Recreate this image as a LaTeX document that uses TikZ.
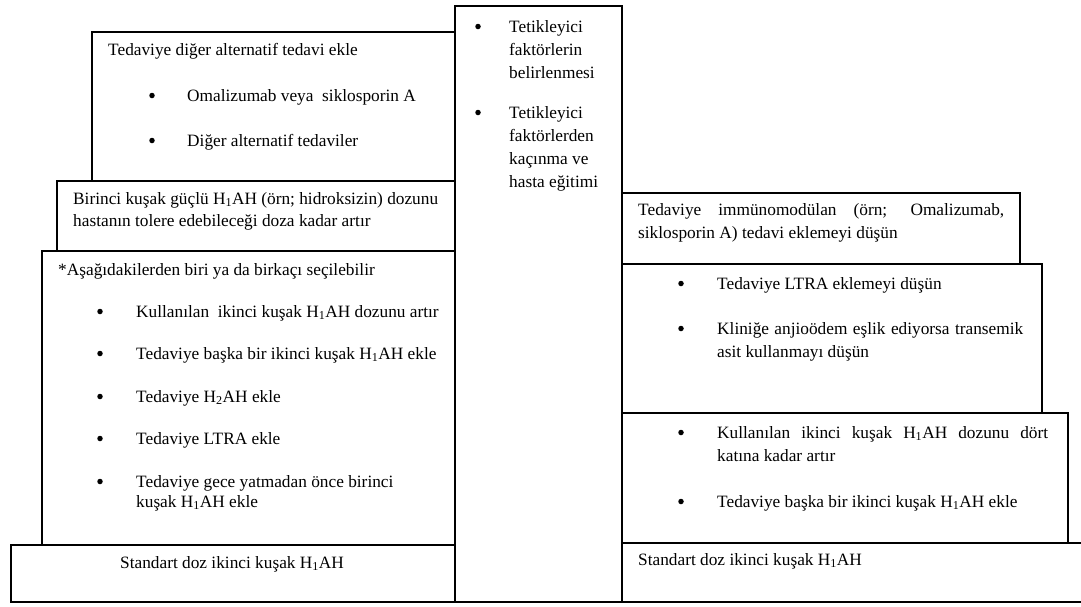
\documentclass[tikz,border=0pt]{standalone}
\usepackage{fontspec}
\setmainfont{Liberation Serif}
\newcommand{\HAH}[1]{H\textsubscript{#1}AH}
\tikzset{
  box/.style={draw=black, line width=1.6pt, anchor=north west, inner sep=0pt},
  txt/.style={anchor=base west, inner sep=0pt, font=\fontsize{17.3}{22}\selectfont},
  bul/.style={circle, fill=black, inner sep=0pt, minimum size=5.5pt, yshift=5.5pt},
}
\begin{document}
\begin{tikzpicture}[x=1pt, y=-1pt]
\useasboundingbox (0,0) rectangle (1081,606);
% left staircase
\node[box, minimum width=363pt, minimum height=149pt] (boxA) at (91,31) {};
\node[box, minimum width=398pt, minimum height=70pt] (boxB) at (56,180) {};
\node[box, minimum width=413pt, minimum height=294pt] (boxC) at (41,250) {};
\node[box, minimum width=444pt, minimum height=57pt] (boxD) at (10,544) {};
% centre column
\node[box, minimum width=167pt, minimum height=596pt] (boxM) at (454,5) {};
% right staircase
\node[box, minimum width=398pt, minimum height=71pt] (boxE) at (621,192) {};
\node[box, minimum width=420pt, minimum height=149pt] (boxF) at (621,263) {};
\node[box, minimum width=446pt, minimum height=130pt] (boxG) at (621,412) {};
\node[box, minimum width=480pt, minimum height=59pt] (boxH) at (621,542) {};

% box A
\node[txt] (a0) at (108,55) {Tedaviye diğer alternatif tedavi ekle};
\node[bul] (ab1) at (152,101) {};
\node[txt] (a1) at (187,101) {Omalizumab veya\ \ siklosporin A};
\node[bul] (ab2) at (152,146) {};
\node[txt] (a2) at (187,146) {Diğer alternatif tedaviler};
% box B
\node[txt] (b1) at (73,204) {Birinci kuşak güçlü \HAH{1} (örn; hidroksizin) dozunu};
\node[txt] (b2) at (73,226) {hastanın tolere edebileceği\ doza kadar artır};
% box C
\node[txt] (c0) at (58,275) {*Aşağıdakilerden biri ya da birkaçı seçilebilir};
\node[bul] (cb1) at (100,317) {};
\node[txt] (c1) at (136,317) {Kullanılan\ \ ikinci kuşak \HAH{1} dozunu artır};
\node[bul] (cb2) at (100,359) {};
\node[txt] (c2) at (136,359) {Tedaviye başka bir ikinci kuşak \HAH{1} ekle};
\node[bul] (cb3) at (100,402) {};
\node[txt] (c3) at (136,402) {Tedaviye \HAH{2} ekle};
\node[bul] (cb4) at (100,444) {};
\node[txt] (c4) at (136,444) {Tedaviye LTRA ekle};
\node[bul] (cb5) at (100,487) {};
\node[txt] (c5) at (136,487) {Tedaviye gece yatmadan önce birinci};
\node[txt] (c6) at (136,507) {kuşak \HAH{1} ekle};
% box D
\node[txt] (d1) at (120,568) {Standart doz ikinci kuşak \HAH{1}};

% centre column
\node[bul] (mb1) at (478,32) {};
\node[txt] (m1) at (509,32) {Tetikleyici};
\node[txt] (m2) at (509,55) {faktörlerin};
\node[txt] (m3) at (509,78) {belirlenmesi};
\node[bul] (mb2) at (478,118) {};
\node[txt] (m4) at (509,118) {Tetikleyici};
\node[txt] (m5) at (509,141) {faktörlerden};
\node[txt] (m6) at (509,164) {kaçınma ve};
\node[txt] (m7) at (509,187) {hasta eğitimi};

% box E
\node[txt] (e1) at (638,215) {\makebox[366pt][s]{Tedaviye immünomodülan (örn; Omalizumab,}};
\node[txt] (e2) at (638,238) {siklosporin A) tedavi eklemeyi düşün};
% box F
\node[bul] (fb1) at (681,289) {};
\node[txt] (f1) at (717,289) {Tedaviye LTRA eklemeyi\ düşün};
\node[bul] (fb2) at (681,334) {};
\node[txt] (f2) at (717,334) {\makebox[306pt][s]{Kliniğe anjioödem eşlik ediyorsa transemik}};
\node[txt] (f3) at (717,357) {asit kullanmayı\ düşün};
% box G
\node[bul] (gb1) at (681,438) {};
\node[txt] (g1) at (717,438) {\makebox[331pt][s]{Kullanılan ikinci kuşak \HAH{1} dozunu dört}};
\node[txt] (g2) at (717,461) {katına kadar artır};
\node[bul] (gb2) at (681,507) {};
\node[txt] (g3) at (717,507) {Tedaviye başka bir ikinci kuşak \HAH{1} ekle};
% box H
\node[txt] (h1) at (638,565) {Standart doz ikinci kuşak \HAH{1}};
\end{tikzpicture}
\end{document}
